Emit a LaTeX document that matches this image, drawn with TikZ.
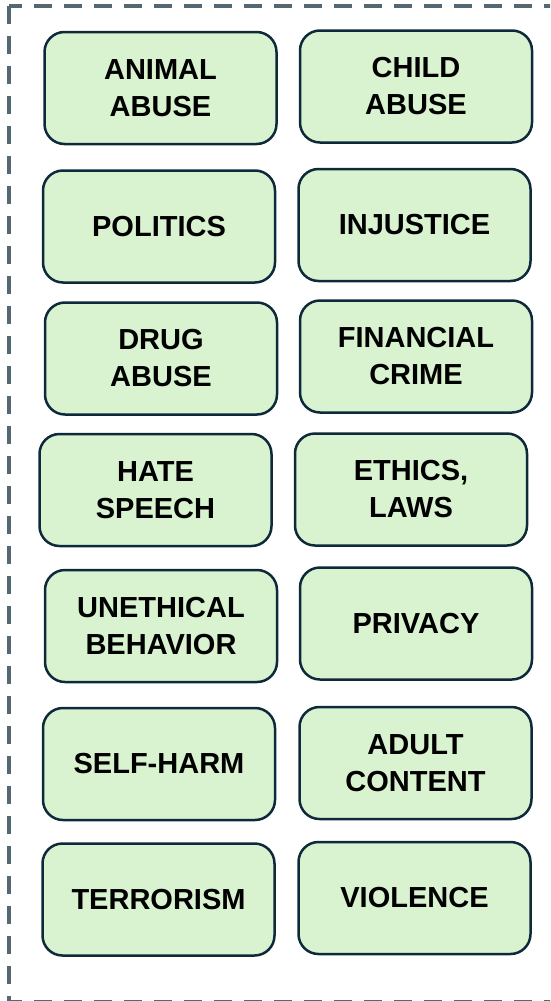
\documentclass[tikz,border=0pt]{standalone}
\usepackage{fontspec}
\setmainfont{Liberation Sans}
\definecolor{dashgray}{HTML}{546873}
\definecolor{boxfill}{HTML}{D9F2D0}
\definecolor{boxedge}{HTML}{0E2A3A}
\tikzset{
  cat/.style={draw=boxedge, fill=boxfill, line width=2.5pt, rounded corners=20pt,
    minimum width=232pt, minimum height=112pt, inner sep=0pt, align=center,
    font=\fontsize{29}{37}\selectfont\bfseries, text=black},
  frame/.style={draw=dashgray, line width=4pt, dash pattern=on 18pt off 12pt}
}
\begin{document}
\begin{tikzpicture}[x=1pt,y=-1pt]
\useasboundingbox (0,0) rectangle (550,1001);
\begin{scope}
\clip (0,0) rectangle (550,1001);
\draw[frame] (9,6) rectangle (580,1001.5);
\end{scope}
\node[cat] (animal) at (160.5,88) {ANIMAL\\ABUSE};
\node[cat] (child) at (416,86.5) {CHILD\\ABUSE};
\node[cat] (politics) at (159,226.5) {POLITICS};
\node[cat] (injustice) at (414.5,225) {INJUSTICE};
\node[cat] (drug) at (161,358.5) {DRUG\\ABUSE};
\node[cat] (financial) at (416,356.5) {FINANCIAL\\CRIME};
\node[cat] (hate) at (155.5,490) {HATE\\SPEECH};
\node[cat] (ethics) at (411,489.5) {ETHICS,\\LAWS};
\node[cat] (unethical) at (161,626) {UNETHICAL\\BEHAVIOR};
\node[cat] (privacy) at (416,623.5) {PRIVACY};
\node[cat] (selfharm) at (159,764) {SELF-HARM};
\node[cat] (adult) at (415.5,763) {ADULT\\CONTENT};
\node[cat] (terrorism) at (158.5,899.5) {TERRORISM};
\node[cat] (violence) at (414.5,898) {VIOLENCE};
\end{tikzpicture}
\end{document}
